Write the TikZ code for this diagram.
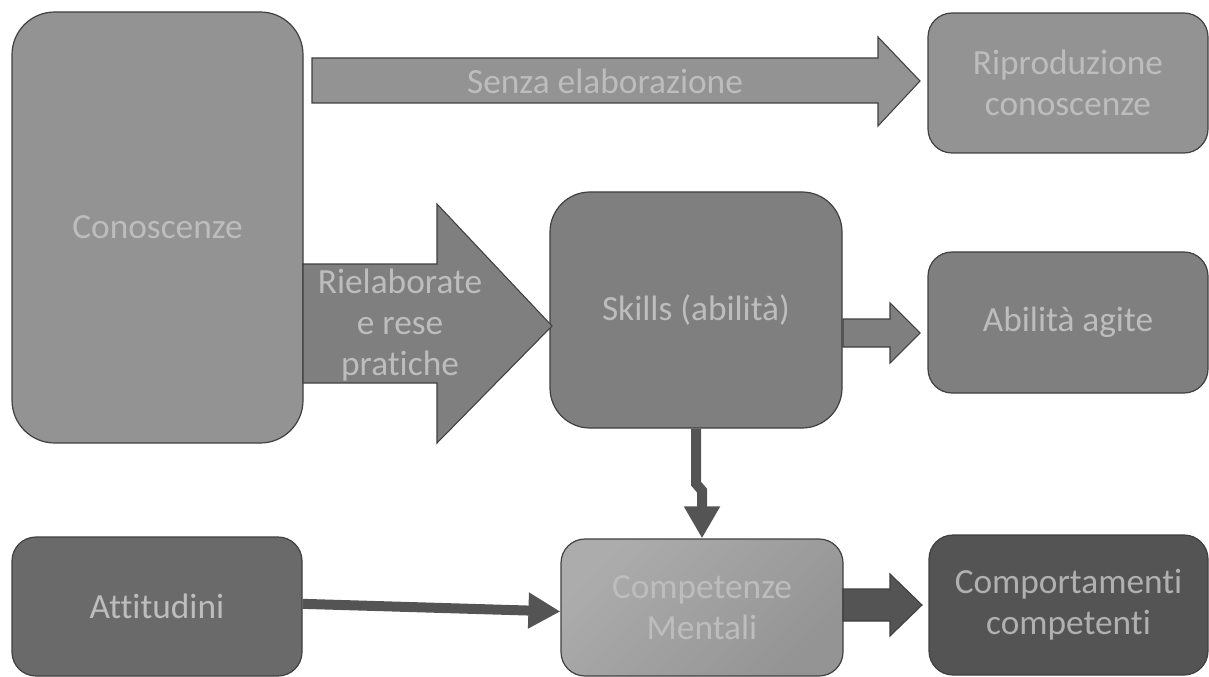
\documentclass[tikz,border=0pt]{standalone}
\usepackage{fontspec}
\setmainfont{Carlito}[Ligatures=NoCommon]
\usepackage{tikz}
\usetikzlibrary{arrows.meta}
\usepackage{xcolor}

\definecolor{lightfill}{HTML}{939393}
\definecolor{midfill}{HTML}{7F7F7F}
\definecolor{darkfill}{HTML}{6A6A6A}
\definecolor{deepfill}{HTML}{545454}
\definecolor{edgegray}{HTML}{404040}
\definecolor{labelgray}{HTML}{BDBDBD}
\definecolor{shadetop}{HTML}{ACACAC}
\definecolor{shadebot}{HTML}{949494}

\tikzset{
  box/.style={draw=edgegray, line width=0.9pt, rounded corners=18pt, text=labelgray,
    font=\fontsize{26.5}{31}\selectfont, align=center, inner sep=0pt},
  fatarrow/.style={draw=edgegray, line width=0.8pt, line join=miter},
  link/.style={draw=deepfill, line width=7.5pt,
    -{Triangle[length=24pt,width=25.5pt]}},
  arrowtext/.style={text=labelgray, font=\fontsize{26.5}{31}\selectfont, align=center, inner sep=0pt}
}

\begin{document}
\begin{tikzpicture}[x=0.75pt,y=0.75pt,yscale=-1,xscale=1]
\useasboundingbox (0,0) rectangle (1209,677);

% Boxes
\node [box, fill=lightfill, rounded corners=32pt, minimum width=218.25pt, minimum height=323.25pt] (know) at (157.5,227.5) {Conoscenze};
\node [box, fill=lightfill, minimum width=210pt, minimum height=105pt] (repro) at (1068,83) {Riproduzione\\conoscenze};
\node [box, fill=midfill, rounded corners=30pt, minimum width=219pt, minimum height=177pt] (skills) at (696,310) {Skills (abilità)};
\node [box, fill=midfill, minimum width=210pt, minimum height=105.75pt] (agite) at (1068,322.5) {Abilità agite};
\node [box, fill=darkfill, minimum width=217.5pt, minimum height=104.25pt] (att) at (157,606.5) {Attitudini};
\node [box, top color=shadetop, bottom color=shadebot, shading angle=45, minimum width=211.5pt, minimum height=102.75pt] (comp) at (702,607.5) {Competenze\\Mentali};
\node [box, fill=deepfill, text=labelgray!120, minimum width=209.25pt, minimum height=105pt] (behav) at (1068.5,605) {Comportamenti\\competenti};

%Right Arrow: senza elaborazione
\draw [fatarrow, fill=lightfill] (312,58) -- (878,58) -- (878,37) -- (920,81) -- (878,126) -- (878,103) -- (312,103) -- cycle ;
%Right Arrow: rielaborate
\draw [fatarrow, fill=midfill] (303,264) -- (437,264) -- (437,204) -- (552,326) -- (437,443) -- (437,383) -- (303,383) -- cycle ;
%Right Arrow: skills to abilita
\draw [fatarrow, fill=midfill] (843,319) -- (890,319) -- (890,303) -- (920,333) -- (890,363) -- (890,347) -- (843,347) -- cycle ;
%Right Arrow: competenze to comportamenti
\draw [fatarrow, fill=deepfill] (843,589) -- (890,589) -- (890,574) -- (922,605) -- (890,636) -- (890,621) -- (843,621) -- cycle ;

% Arrow labels
\node [arrowtext] (senza) at (605,81) {Senza elaborazione};
\node [arrowtext] (riel) at (400,325) {Rielaborate\\e rese\\pratiche};

% Connectors
\draw [link] (skills.south) -- ++(0,55) -- ++(6,7) -- (comp.north);
\draw [link] ([yshift=-2pt]att.east) -- ([yshift=3pt]comp.west);

\end{tikzpicture}
\end{document}
